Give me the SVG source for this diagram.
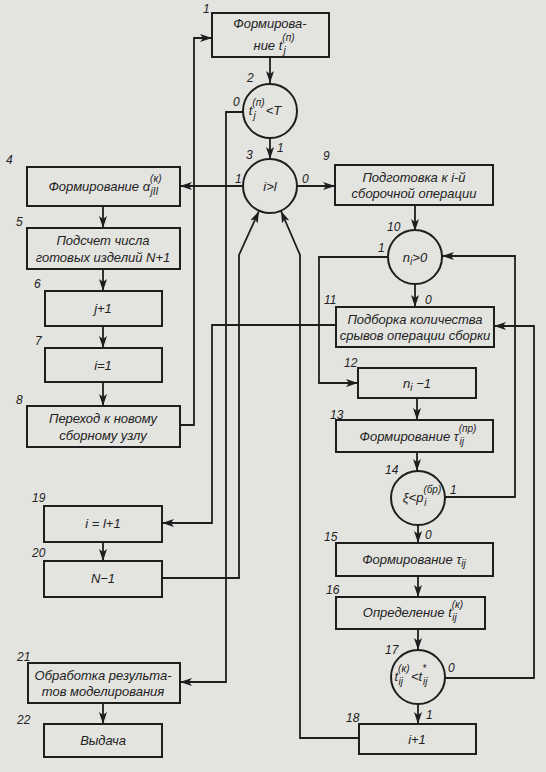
<svg xmlns="http://www.w3.org/2000/svg" width="546" height="772" viewBox="0 0 546 772">
<style>
.bg{fill:#e3e3e0}
.b{fill:none;stroke:#1e1e1e;stroke-width:2}
.c{fill:none;stroke:#1e1e1e;stroke-width:1.8}
.t{font-family:"Liberation Sans",Arial,sans-serif;font-style:italic;font-size:13px;fill:#222;text-anchor:middle}
.n{font-family:"Liberation Sans",Arial,sans-serif;font-style:italic;font-size:12px;fill:#222}
.s{font-size:10px}
</style>
<defs>
<marker id="a" viewBox="0 0 12 8" refX="12" refY="4" markerWidth="12" markerHeight="8" markerUnits="userSpaceOnUse" orient="auto">
<path d="M0,0 L12,4 L0,8 L3,4 Z" fill="#1e1e1e"/>
</marker>
</defs>
<rect class="bg" x="0" y="0" width="546" height="772"/>

<g id="connectors">
<path class="c" d="M270 57 V83" marker-end="url(#a)"/>
<path class="c" d="M270 139 V159" marker-end="url(#a)"/>
<path class="c" d="M243 186 H180" marker-end="url(#a)"/>
<path class="c" d="M298 186 H335" marker-end="url(#a)"/>
<path class="c" d="M103 206 V228" marker-end="url(#a)"/>
<path class="c" d="M103 269 V291" marker-end="url(#a)"/>
<path class="c" d="M103 326 V348" marker-end="url(#a)"/>
<path class="c" d="M103 382 V406" marker-end="url(#a)"/>
<path class="c" d="M180 425 H194 V38 H212" marker-end="url(#a)"/>
<path class="c" d="M244 112 H226 V682 H180" marker-end="url(#a)"/>
<path class="c" d="M336 325 H212 V523 H162" marker-end="url(#a)"/>
<path class="c" d="M162 578 H239 V255 L259 211" marker-end="url(#a)"/>
<path class="c" d="M359 738 H300 V255 L281 211" marker-end="url(#a)"/>
<path class="c" d="M415 205 V231" marker-end="url(#a)"/>
<path class="c" d="M388 257 H319 V383 H358" marker-end="url(#a)"/>
<path class="c" d="M415 284 V307" marker-end="url(#a)"/>
<path class="c" d="M417 398 V420" marker-end="url(#a)"/>
<path class="c" d="M417 452 V471" marker-end="url(#a)"/>
<path class="c" d="M445 497 H515 V256 H442" marker-end="url(#a)"/>
<path class="c" d="M418 525 V543" marker-end="url(#a)"/>
<path class="c" d="M418 576 V597" marker-end="url(#a)"/>
<path class="c" d="M418 629 V650" marker-end="url(#a)"/>
<path class="c" d="M418 704 V724" marker-end="url(#a)"/>
<path class="c" d="M445 678 H534 V326 H494" marker-end="url(#a)"/>
<path class="c" d="M103 542 V561" marker-end="url(#a)"/>
<path class="c" d="M103 703 V724" marker-end="url(#a)"/>
</g>

<g id="n1"><rect class="b" x="212" y="13" width="117" height="44"/>
<text class="t" x="270" y="28">Формирова-</text>
<text class="t" x="274" y="50">ние t<tspan class="s" dy="-9">(п)</tspan><tspan class="s" dx="-11" dy="13">j</tspan></text>
<text class="n" x="203" y="13">1</text></g>

<g id="n2"><circle class="b" cx="270" cy="111" r="27"/>
<text class="t" x="265" y="115">t<tspan class="s" dy="-9">(п)</tspan><tspan class="s" dx="-11" dy="13">j</tspan><tspan dx="10" dy="-4">&lt;T</tspan></text>
<text class="n" x="247" y="82">2</text>
<text class="n" x="233" y="106">0</text>
<text class="n" x="277" y="152">1</text></g>

<g id="n3"><circle class="b" cx="270" cy="186" r="27"/>
<text class="t" x="270" y="191">i&gt;l</text>
<text class="n" x="246" y="159">3</text>
<text class="n" x="235" y="183">1</text>
<text class="n" x="302" y="183">0</text></g>

<g id="n4"><rect class="b" x="27" y="167" width="153" height="39"/>
<text class="t" x="105" y="191">Формирование α<tspan class="s" dy="-9">(к)</tspan><tspan class="s" dx="-11" dy="13">jII</tspan></text>
<text class="n" x="6" y="164">4</text></g>

<g id="n5"><rect class="b" x="27" y="228" width="153" height="41"/>
<text class="t" x="103" y="245">Подсчет числа</text>
<text class="t" x="103" y="262">готовых изделий N+1</text>
<text class="n" x="16" y="226">5</text></g>

<g id="n6"><rect class="b" x="45" y="291" width="117" height="35"/>
<text class="t" x="103" y="313">j+1</text>
<text class="n" x="34" y="288">6</text></g>

<g id="n7"><rect class="b" x="45" y="348" width="117" height="34"/>
<text class="t" x="103" y="370">i=1</text>
<text class="n" x="35" y="345">7</text></g>

<g id="n8"><rect class="b" x="27" y="406" width="153" height="41"/>
<text class="t" x="103" y="423">Переход к новому</text>
<text class="t" x="103" y="440">сборному узлу</text>
<text class="n" x="16" y="404">8</text></g>

<g id="n9"><rect class="b" x="335" y="165" width="158" height="40"/>
<text class="t" x="414" y="182">Подготовка к i-й</text>
<text class="t" x="414" y="198">сборочной операции</text>
<text class="n" x="323" y="160">9</text></g>

<g id="n10"><circle class="b" cx="415" cy="257" r="27"/>
<text class="t" x="415" y="262">n<tspan class="s" dy="3">i</tspan><tspan dy="-3">&gt;0</tspan></text>
<text class="n" x="387" y="231">10</text>
<text class="n" x="378" y="252">1</text>
<text class="n" x="425" y="304">0</text></g>

<g id="n11"><rect class="b" x="336" y="307" width="158" height="40"/>
<text class="t" x="415" y="324">Подборка количества</text>
<text class="t" x="415" y="340">срывов операции сборки</text>
<text class="n" x="324" y="304">11</text></g>

<g id="n12"><rect class="b" x="358" y="368" width="118" height="30"/>
<text class="t" x="417" y="388">n<tspan class="s" dy="3">i</tspan><tspan dy="-3"> −1</tspan></text>
<text class="n" x="344" y="367">12</text></g>

<g id="n13"><rect class="b" x="336" y="420" width="157" height="32"/>
<text class="t" x="418" y="441">Формирование τ<tspan class="s" dy="-9">(пр)</tspan><tspan class="s" dx="-17" dy="13">ij</tspan></text>
<text class="n" x="330" y="419">13</text></g>

<g id="n14"><circle class="b" cx="418" cy="498" r="27"/>
<text class="t" x="422" y="502">ξ&lt;p<tspan class="s" dy="-9">(бр)</tspan><tspan class="s" dx="-17" dy="13">i</tspan></text>
<text class="n" x="385" y="474">14</text>
<text class="n" x="450" y="494">1</text>
<text class="n" x="425" y="539">0</text></g>

<g id="n15"><rect class="b" x="336" y="543" width="157" height="33"/>
<text class="t" x="414" y="564">Формирование τ<tspan class="s" dy="3">ij</tspan></text>
<text class="n" x="324" y="541">15</text></g>

<g id="n16"><rect class="b" x="336" y="597" width="149" height="32"/>
<text class="t" x="413" y="617">Определение t<tspan class="s" dy="-9">(к)</tspan><tspan class="s" dx="-11" dy="13">ij</tspan></text>
<text class="n" x="326" y="594">16</text></g>

<g id="n17"><circle class="b" cx="418" cy="677" r="27"/>
<text class="t" x="411" y="681">t<tspan class="s" dy="-9">(к)</tspan><tspan class="s" dx="-11" dy="13">ij</tspan><tspan dx="8" dy="-4">&lt;t</tspan><tspan class="s" dy="-9">*</tspan><tspan class="s" dx="-3" dy="13">ij</tspan></text>
<text class="n" x="385" y="654">17</text>
<text class="n" x="448" y="672">0</text>
<text class="n" x="426" y="719">1</text></g>

<g id="n18"><rect class="b" x="359" y="724" width="117" height="30"/>
<text class="t" x="417" y="744">i+1</text>
<text class="n" x="346" y="722">18</text></g>

<g id="n19"><rect class="b" x="44" y="506" width="118" height="36"/>
<text class="t" x="103" y="528">i = l+1</text>
<text class="n" x="32" y="502">19</text></g>

<g id="n20"><rect class="b" x="44" y="561" width="118" height="36"/>
<text class="t" x="103" y="583">N−1</text>
<text class="n" x="32" y="557">20</text></g>

<g id="n21"><rect class="b" x="28" y="663" width="152" height="40"/>
<text class="t" x="103" y="680">Обработка результа-</text>
<text class="t" x="103" y="696">тов моделирования</text>
<text class="n" x="17" y="661">21</text></g>

<g id="n22"><rect class="b" x="44" y="724" width="118" height="33"/>
<text class="t" x="103" y="745">Выдача</text>
<text class="n" x="17" y="724">22</text></g>
</svg>
